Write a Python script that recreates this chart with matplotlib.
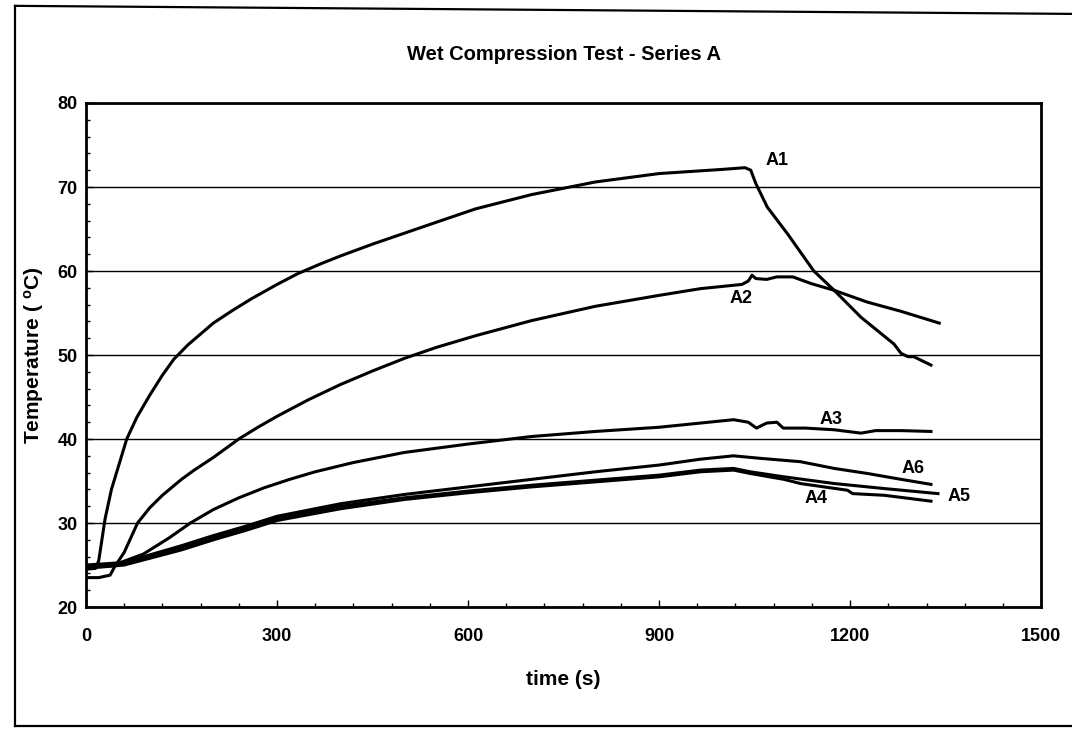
import matplotlib.pyplot as plt
from matplotlib.lines import Line2D

plt.rcParams["font.family"] = ["Liberation Sans", "DejaVu Sans"]
plt.rcParams["font.weight"] = "bold"
plt.rcParams["mathtext.fontset"] = "custom"
plt.rcParams["mathtext.rm"] = "Liberation Sans:bold"
plt.rcParams["mathtext.it"] = "Liberation Sans:bold"

# time (s) / temperature (C)
t_a1 = [0, 15, 20, 25, 30, 40, 50, 64, 80, 100, 120, 138, 160, 180, 200, 230, 260, 300, 333, 370, 400, 450, 500, 550, 612,
        700, 800, 900, 1000, 1035,
        1044, 1052, 1070, 1102, 1143, 1175, 1217, 1269, 1280, 1291, 1300, 1327]
a1 = [24.5, 24.6, 25.5, 28, 30.5, 34, 36.5, 40, 42.6, 45.2, 47.6, 49.5, 51.2, 52.5, 53.8, 55.3, 56.7, 58.4, 59.7, 60.9, 61.8, 63.2, 64.5, 65.8, 67.4,
      69.1, 70.6, 71.6, 72.1, 72.3,
      72.0, 70.4, 67.6, 64.4, 60, 57.7, 54.5, 51.3, 50.2, 49.8, 49.8, 48.8]

t_a2 = [0, 20, 38, 45, 60, 81, 100, 120, 150, 170, 200, 240, 270, 300, 350, 400, 450, 500, 550, 612, 700, 800, 900, 965, 1030,
        1040, 1046, 1052, 1069, 1085, 1110, 1139, 1175, 1227, 1280, 1340]
a2 = [23.5, 23.5, 23.8, 24.8, 26.5, 30, 31.8, 33.3, 35.2, 36.3, 37.8, 40, 41.4, 42.7, 44.7, 46.5, 48.1, 49.6, 50.9, 52.3, 54.1, 55.8, 57.1, 57.9, 58.4,
        58.8, 59.5, 59.1, 59.0, 59.3, 59.3, 58.5, 57.7, 56.3, 55.2, 53.8]

t_a3 = [0, 40, 90, 130, 164, 200, 240, 280, 320, 360, 420, 500, 600, 700, 800, 900, 965, 1017, 1040, 1053, 1069, 1085, 1095, 1130,
        1175, 1217, 1240, 1280, 1327]
a3 = [24.8, 24.9, 26.3, 28.2, 30, 31.6, 33.0, 34.2, 35.2, 36.1, 37.2, 38.4, 39.4, 40.3, 40.9, 41.4, 41.9, 42.3, 42.0, 41.3, 41.9, 42.0, 41.3, 41.3,
      41.1, 40.7, 41.0, 41.0, 40.9]

t_a4 = [0, 60, 100, 150, 200, 250, 300, 400, 500, 600, 700, 800, 900, 965, 1017, 1043, 1096, 1122, 1196, 1204, 1254, 1327]
a4 = [24.6, 25.0, 25.8, 26.8, 28.0, 29.1, 30.3, 31.7, 32.8, 33.6, 34.3, 34.9, 35.5, 36.1, 36.3, 35.9, 35.2, 34.7, 33.9, 33.5, 33.3, 32.6]

t_a5 = [0, 60, 100, 150, 200, 250, 300, 400, 500, 600, 700, 800, 900, 965, 1017, 1043, 1096, 1175, 1254, 1338]
a5 = [24.9, 25.2, 26.1, 27.1, 28.3, 29.4, 30.6, 32.0, 33.0, 33.8, 34.5, 35.1, 35.7, 36.3, 36.5, 36.1, 35.5, 34.7, 34.1, 33.5]

t_a6 = [0, 60, 100, 150, 200, 250, 300, 400, 500, 600, 700, 800, 900, 965, 1017, 1059, 1122, 1175, 1227, 1280, 1327]
a6 = [25.0, 25.3, 26.2, 27.3, 28.5, 29.6, 30.8, 32.3, 33.4, 34.3, 35.2, 36.1, 36.9, 37.6, 38.0, 37.7, 37.3, 36.5, 35.9, 35.2, 34.6]

labels = ["A1", "A2", "A3", "A4", "A5", "A6"]
label_t = [1086, 1028, 1170, 1146, 1371, 1299]
label_T = [73.2, 56.7, 42.3, 32.9, 33.1, 36.5]

fig = plt.figure(figsize=(10.72, 7.31), dpi=100)
ax = fig.add_axes([0.0802, 0.1696, 0.891, 0.6895])

for tt, yy in [(t_a1, a1), (t_a2, a2), (t_a3, a3), (t_a4, a4), (t_a5, a5), (t_a6, a6)]:
    ax.plot(tt, yy, color="black", lw=2.2, zorder=3)

for name, tx, ty in zip(labels, label_t, label_T):
    ax.text(tx, ty, name, fontsize=13, fontweight="bold", ha="center", va="center")

ax.set_xlim(0, 1500)
ax.set_ylim(20, 80)
ax.set_xticks(range(0, 1501, 300))
ax.set_xticks(range(0, 1501, 60), minor=True)
ax.set_yticks(range(20, 81, 10))
ax.set_yticks(range(20, 81, 2), minor=True)
ax.tick_params(which="both", direction="in", labelsize=13)
ax.tick_params(which="major", length=5, width=1)
ax.tick_params(which="minor", length=3, width=1)
ax.tick_params(axis="x", pad=15)
ax.tick_params(axis="y", pad=6)
ax.grid(axis="y", which="major", color="black", lw=1)
for s in ax.spines.values():
    s.set_linewidth(2)

ax.set_title("Wet Compression Test - Series A", fontsize=14.5, fontweight="bold", pad=31)
ax.set_xlabel("time (s)", fontsize=15, fontweight="bold", labelpad=18)
ax.set_ylabel("Temperature ( $^{o}$C)", fontsize=15, fontweight="bold", labelpad=8)

# outer frame of the scanned page
fig.add_artist(Line2D([0.014, 0.014], [0.007, 0.992], color="black", lw=1.6))
fig.add_artist(Line2D([0.014, 1.0], [0.992, 0.981], color="black", lw=1.6))
fig.add_artist(Line2D([0.014, 1.0], [0.007, 0.007], color="black", lw=1.6))

plt.savefig("out.png", dpi=100)
